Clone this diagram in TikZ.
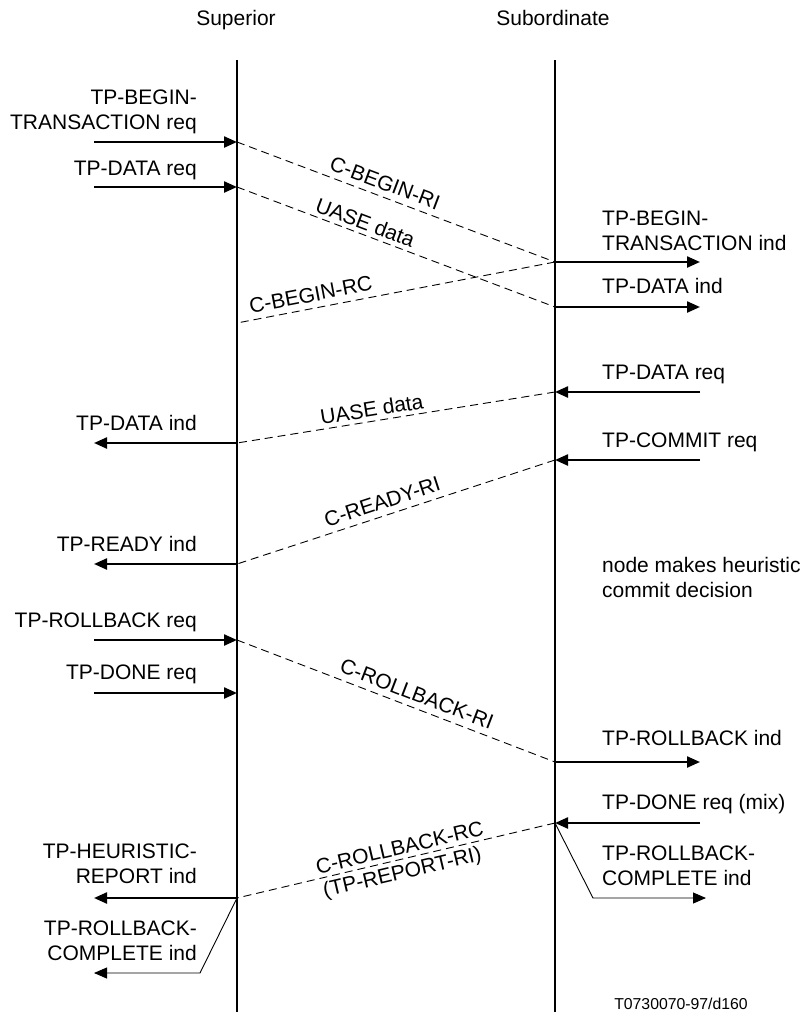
\documentclass[tikz,border=0pt]{standalone}
\usepackage{fontspec}
\setmainfont{Liberation Sans}
\usetikzlibrary{arrows.meta}
\begin{document}
\begin{tikzpicture}[x=1pt,y=-1pt,
  every node/.style={font=\fontsize{21}{25}\selectfont},
  life/.style={line width=2pt},
  msg/.style={line width=2.3pt,-{Triangle[length=13pt,width=11pt]}},
  thinmsg/.style={line width=0.9pt,-{Triangle[length=13pt,width=11pt]}},
  pdu/.style={line width=0.9pt,dash pattern=on 8pt off 5pt},
  lblL/.style={anchor=south east,inner sep=0pt,text depth=0pt,align=right},
  lblR/.style={anchor=south west,inner sep=0pt,text depth=0pt,align=left},
  plbl/.style={sloped,inner sep=6pt},
]
\useasboundingbox (0,0) rectangle (807,1015);

% headers and lifelines
\node[anchor=base] (hsup) at (236,25) {Superior};
\node[anchor=base] (hsub) at (553,25) {Subordinate};
\coordinate (supTop) at (237,60);
\coordinate (supBot) at (237,1012);
\coordinate (subTop) at (555,60);
\coordinate (subBot) at (555,1012);
\draw[life] (supTop) -- (supBot);
\draw[life] (subTop) -- (subBot);

% points on Superior lifeline
\coordinate (s1) at (237,142);
\coordinate (s2) at (237,187);
\coordinate (s3) at (237,323);
\coordinate (s4) at (237,443);
\coordinate (s5) at (237,564);
\coordinate (s6) at (237,640);
\coordinate (s7) at (237,693);
\coordinate (s8) at (237,898);
% points on Subordinate lifeline
\coordinate (b1) at (555,262);
\coordinate (b2) at (555,307);
\coordinate (b3) at (555,392);
\coordinate (b4) at (555,460);
\coordinate (b5) at (555,762);
\coordinate (b6) at (555,823);
% outer ends, left
\coordinate (l1) at (94,142);
\coordinate (l2) at (94,187);
\coordinate (l4) at (94,443);
\coordinate (l5) at (94,564);
\coordinate (l6) at (94,640);
\coordinate (l7) at (94,693);
\coordinate (l8) at (94,898);
\coordinate (lk) at (200,973);
\coordinate (l9) at (94,973);
% outer ends, right
\coordinate (r1) at (700,262);
\coordinate (r2) at (700,307);
\coordinate (r3) at (700,392);
\coordinate (r4) at (700,460);
\coordinate (r5) at (700,762);
\coordinate (r6) at (700,823);
\coordinate (rk) at (593,898);
\coordinate (r7) at (706,898);

% left primitives
\node[lblL] (t1) at (197,130) {TP-BEGIN-\\TRANSACTION req};
\draw[msg] (l1) -- (s1);
\node[lblL] (t2) at (197,176) {TP-DATA req};
\draw[msg] (l2) -- (s2);
\node[lblL] (t4) at (197,431) {TP-DATA ind};
\draw[msg] (s4) -- (l4);
\node[lblL] (t5) at (197,552) {TP-READY ind};
\draw[msg] (s5) -- (l5);
\node[lblL] (t6) at (197,628) {TP-ROLLBACK req};
\draw[msg] (l6) -- (s6);
\node[lblL] (t7) at (197,680) {TP-DONE req};
\draw[msg] (l7) -- (s7);
\node[lblL] (t8) at (197,884) {TP-HEURISTIC-\\REPORT ind};
\draw[msg] (s8) -- (l8);
\node[lblL] (t9) at (197,961) {TP-ROLLBACK-\\COMPLETE ind};
\draw[thinmsg] (s8) -- (lk) -- (l9);

% right primitives
\node[lblR] (u1) at (602,251) {TP-BEGIN-\\TRANSACTION ind};
\draw[msg] (b1) -- (r1);
\node[lblR] (u2) at (602,294) {TP-DATA ind};
\draw[msg] (b2) -- (r2);
\node[lblR] (u3) at (602,380) {TP-DATA req};
\draw[msg] (r3) -- (b3);
\node[lblR] (u4) at (602,448) {TP-COMMIT req};
\draw[msg] (r4) -- (b4);
\node[lblR] (u5) at (602,598) {node makes heuristic\\commit decision};
\node[lblR] (u6) at (602,746) {TP-ROLLBACK ind};
\draw[msg] (b5) -- (r5);
\node[lblR] (u7) at (602,810) {TP-DONE req (mix)};
\draw[msg] (r6) -- (b6);
\node[lblR] (u8) at (602,886) {TP-ROLLBACK-\\COMPLETE ind};
\draw[thinmsg] (b6) -- (rk) -- (r7);

% protocol exchanges
\draw[pdu] (s1) -- node[plbl,above,pos=0.45] (p1) {C-BEGIN-RI} (b1);
\draw[pdu] (s2) -- node[plbl,above,pos=0.39,inner sep=4pt] (p2) {UASE data} (b2);
\draw[pdu] (b1) -- node[plbl,above,pos=0.76] (p3) {C-BEGIN-RC} (s3);
\draw[pdu] (b3) -- node[plbl,above,pos=0.57,inner sep=4pt] (p4) {UASE data} (s4);
\draw[pdu] (b4) -- node[plbl,above,pos=0.53] (p5) {C-READY-RI} (s5);
\draw[pdu] (s6) -- node[plbl,above,pos=0.55] (p6) {C-ROLLBACK-RI} (b5);
\draw[pdu] (b6) -- node[plbl,above,pos=0.48,inner sep=4pt] (p7) {C-ROLLBACK-RC}
                   node[plbl,below,pos=0.49,inner sep=4pt] (p8) {(TP-REPORT-RI)} (s8);

% figure reference
\node[anchor=base east,inner sep=0pt,font=\fontsize{15.8}{18}\selectfont] (ref) at (748,1009) {T0730070-97/d160};
\end{tikzpicture}
\end{document}
